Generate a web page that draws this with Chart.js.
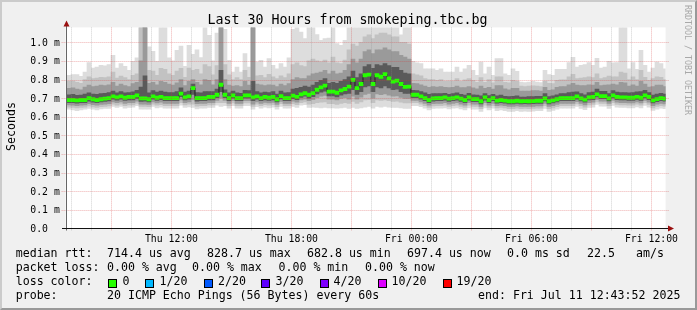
<!DOCTYPE html>
<html lang="en">
<head>
<meta charset="UTF-8">
<title>Last 30 Hours from smokeping.tbc.bg</title>
<script src="https://cdn.jsdelivr.net/npm/chart.js"></script>
<style>
  html, body { margin: 0; padding: 0; background: #f0f0f0; }
  #wrap { position: relative; width: 697px; height: 310px; background: #f0f0f0; overflow: hidden;
          font-family: "DejaVu Sans Mono", monospace; color: #000; }
  #frame { position: absolute; left: 0; top: 0; width: 697px; height: 310px; box-sizing: border-box;
           border-top: 2px solid #cbcbcb; border-left: 2px solid #cbcbcb;
           border-right: 2px solid #999; border-bottom: 2px solid #999; pointer-events: none; }
  canvas { position: absolute; left: 0; top: 0; }
  .t { position: absolute; white-space: pre; font-size: 11.6px; line-height: 11.6px; }
  .title { position: absolute; left: -1px; width: 697px; top: 12.8px; text-align: center;
           font-size: 13.3px; line-height: 13.3px; white-space: pre; }
  .box { position: absolute; top: 279px; width: 7px; height: 7px; border: 1px solid #000; }
</style>
</head>
<body>
<div id="wrap">
  <canvas id="smoke" width="697" height="310"></canvas>
  <div class="title">Last 30 Hours from smokeping.tbc.bg</div>

  <span class="t" style="left:15.7px;top:248.2px">median rtt:</span>
  <span class="t" style="left:107px;top:248.2px">714.4 us avg</span>
  <span class="t" style="left:207px;top:248.2px">828.7 us max</span>
  <span class="t" style="left:307px;top:248.2px">682.8 us min</span>
  <span class="t" style="left:407px;top:248.2px">697.4 us now</span>
  <span class="t" style="left:507px;top:248.2px">0.0 ms sd</span>
  <span class="t" style="left:587px;top:248.2px">22.5</span>
  <span class="t" style="left:636px;top:248.2px">am/s</span>

  <span class="t" style="left:15.7px;top:262.2px">packet loss:</span>
  <span class="t" style="left:107px;top:262.2px">0.00 % avg</span>
  <span class="t" style="left:192px;top:262.2px">0.00 % max</span>
  <span class="t" style="left:278.5px;top:262.2px">0.00 % min</span>
  <span class="t" style="left:365px;top:262.2px">0.00 % now</span>

  <span class="t" style="left:15.7px;top:276.2px">loss color:</span>
  <div class="box" style="left:108px;background:#26ff00"></div>
  <span class="t" style="left:122.5px;top:276.2px">0</span>
  <div class="box" style="left:145px;background:#00b8ff"></div>
  <span class="t" style="left:159.5px;top:276.2px">1/20</span>
  <div class="box" style="left:203.5px;background:#0059ff"></div>
  <span class="t" style="left:218px;top:276.2px">2/20</span>
  <div class="box" style="left:261px;background:#5e00ff"></div>
  <span class="t" style="left:275.5px;top:276.2px">3/20</span>
  <div class="box" style="left:319.5px;background:#7e00ff"></div>
  <span class="t" style="left:333.5px;top:276.2px">4/20</span>
  <div class="box" style="left:377.5px;background:#dd00ff"></div>
  <span class="t" style="left:391.5px;top:276.2px">10/20</span>
  <div class="box" style="left:442.5px;background:#ff0000"></div>
  <span class="t" style="left:456.5px;top:276.2px">19/20</span>

  <span class="t" style="left:15.7px;top:290.2px">probe:</span>
  <span class="t" style="left:107px;top:290.2px">20 ICMP Echo Pings (56 Bytes) every 60s</span>
  <span class="t" style="left:478px;top:290.2px">end: Fri Jul 11 12:43:52 2025</span>
  <div id="frame"></div>
</div>
<script>
// time axis: hours after Thu 00:00, 12 minute bins
const BIN_START = 6.8;
const BIN_HOURS = 0.2;
const VIEW_START = 6 + 43 / 60 + 52 / 3600;   // Thu 06:43:52
const VIEW_END = VIEW_START + 30;               // Fri 12:43:52

const labelHours = [12, 18, 24, 30, 36];
const labelText = ['Thu 12:00', 'Thu 18:00', 'Fri 00:00', 'Fri 06:00', 'Fri 12:00'];
const yTicks = [0, 0.1, 0.2, 0.3, 0.4, 0.5, 0.6, 0.7, 0.8, 0.9, 1.0];
const yTickText = ['0.0', '0.1 m', '0.2 m', '0.3 m', '0.4 m', '0.5 m', '0.6 m', '0.7 m', '0.8 m', '0.9 m', '1.0 m'];

// median rtt per bin (ms)
const median = [
  .690,.690,.688,.690,.690,.700,.694,.690,.694,.697,
  .700,.709,.704,.709,.702,.706,.706,.715,.699,.699,
  .694,.709,.702,.707,.700,.700,.700,.700,.724,.704,
  .709,.754,.700,.700,.700,.706,.706,.718,.772,.718,
  .700,.715,.700,.700,.715,.715,.704,.709,.700,.706,
  .702,.706,.694,.711,.700,.700,.713,.707,.720,.726,
  .718,.727,.745,.758,.767,.735,.735,.729,.742,.749,
  .762,.798,.754,.776,.823,.826,.776,.823,.815,.829,
  .806,.789,.794,.776,.760,.762,.718,.718,.709,.700,
  .690,.699,.700,.700,.704,.697,.700,.704,.697,.690,
  .704,.695,.695,.683,.704,.690,.700,.687,.690,.687,
  .683,.683,.686,.683,.684,.683,.684,.686,.686,.699,
  .683,.688,.694,.700,.700,.700,.700,.709,.699,.692,
  .704,.706,.720,.711,.711,.699,.715,.706,.704,.704,
  .702,.702,.707,.702,.715,.706,.688,.695,.700,.697
];
// smoke: highest ping and upper spread levels (ms)
const pingMax = [
  .823,.826,.826,.817,.840,.891,.862,.867,.876,.873,
  .880,.930,.862,.885,.871,.849,.898,.916,1.09,1.09,
  .975,.951,.898,1.09,1.09,.916,.900,.957,.979,.871,
  .984,.935,.960,.918,1.09,1.037,.900,1.05,1.09,1.07,
  .903,.840,.867,.840,.939,.867,1.09,.894,.903,.867,
  .912,.876,.858,.885,.867,.917,1.07,1.09,1.055,1.02,
  1.09,1.09,1.041,1.01,1.02,1.023,1.09,.993,.984,1.01,
  1.09,1.09,1.09,1.09,1.09,1.09,1.09,1.09,1.09,1.09,
  1.09,1.09,1.09,1.04,1.09,1.09,.898,.890,.885,.858,
  .858,.858,.849,.858,.840,.840,.840,.867,.840,.858,
  .876,.849,.823,.894,.831,.867,.823,.912,.912,.831,
  .823,.858,.844,.786,.783,.786,.790,.786,.783,.849,
  .826,.823,.855,.855,.855,.891,.919,.867,.876,.880,
  .891,.876,.914,.862,.867,.898,.889,.891,1.09,1.09,
  .858,.891,.855,.957,.876,.840,.862,.894,.885,.858
];
const upper2 = [
  .790,.792,.785,.780,.800,.815,.805,.808,.812,.810,
  .815,.840,.808,.818,.810,.800,.822,.830,1.09,1.09,
  .850,.845,.822,.860,.855,.830,.822,.845,.860,.812,
  .862,.850,.855,.830,.880,.870,.825,.875,1.09,.880,
  .825,.800,.810,.800,.850,.812,1.09,.820,.822,.810,
  .828,.815,.805,.820,.810,.830,.880,.890,.875,.870,
  .900,.910,.900,.895,.905,.890,.920,.890,.885,.905,
  .960,.990,.980,1.00,1.03,1.04,1.02,1.04,1.05,1.05,
  1.04,1.03,1.03,1.00,1.00,.990,.830,.825,.820,.805,
  .800,.800,.795,.800,.790,.792,.792,.805,.790,.798,
  .805,.795,.785,.810,.785,.800,.782,.815,.815,.785,
  .782,.795,.790,.765,.762,.765,.766,.765,.762,.790,
  .780,.778,.795,.798,.798,.815,.828,.805,.808,.810,
  .815,.810,.830,.805,.810,.818,.815,.815,.840,.835,
  .800,.815,.800,.850,.812,.795,.805,.815,.812,.800
];
const upper3 = [
  .752,.755,.748,.745,.760,.770,.762,.765,.770,.768,
  .772,.785,.765,.775,.768,.762,.778,.785,.900,1.09,
  .780,.785,.772,.790,.785,.775,.770,.782,.800,.768,
  .790,.800,.785,.772,.800,.795,.772,.800,1.09,.800,
  .770,.765,.768,.762,.790,.770,1.09,.775,.772,.768,
  .772,.770,.762,.775,.768,.778,.800,.810,.805,.805,
  .820,.830,.835,.840,.850,.830,.845,.830,.835,.850,
  .880,.910,.890,.910,.950,.960,.940,.960,.960,.970,
  .960,.950,.950,.930,.920,.910,.780,.778,.772,.765,
  .758,.762,.760,.762,.758,.756,.758,.765,.756,.756,
  .762,.755,.750,.765,.752,.758,.748,.768,.768,.750,
  .745,.752,.752,.738,.738,.738,.740,.740,.738,.758,
  .742,.744,.758,.762,.762,.772,.780,.770,.768,.768,
  .772,.770,.785,.768,.770,.772,.775,.772,.785,.782,
  .765,.772,.765,.790,.775,.760,.762,.770,.770,.762
];
const upper4 = [
  .718,.720,.715,.716,.722,.728,.722,.720,.724,.726,
  .730,.738,.728,.735,.728,.730,.734,.742,.760,.820,
  .728,.740,.732,.738,.732,.730,.730,.735,.755,.733,
  .738,.775,.730,.728,.735,.735,.735,.748,.850,.745,
  .728,.738,.728,.726,.742,.740,.790,.735,.728,.732,
  .730,.735,.722,.738,.728,.730,.748,.752,.758,.765,
  .760,.770,.785,.795,.805,.780,.785,.780,.790,.800,
  .815,.845,.810,.830,.870,.880,.860,.880,.875,.885,
  .875,.865,.865,.850,.835,.830,.742,.740,.735,.728,
  .720,.724,.725,.725,.726,.720,.724,.728,.720,.716,
  .726,.718,.716,.712,.724,.714,.720,.712,.716,.710,
  .708,.710,.712,.706,.706,.708,.708,.710,.710,.724,
  .708,.712,.718,.724,.724,.730,.732,.734,.724,.718,
  .730,.732,.748,.736,.736,.724,.740,.732,.730,.730,
  .728,.730,.734,.735,.742,.730,.716,.722,.726,.722
];
// smoke: lower spread levels and lowest ping (ms)
const lower4 = [
  .676,.675,.673,.675,.676,.684,.678,.675,.679,.682,
  .685,.694,.689,.694,.687,.691,.690,.699,.682,.683,
  .680,.694,.688,.692,.686,.686,.686,.686,.708,.690,
  .694,.720,.684,.686,.686,.690,.690,.702,.735,.702,
  .686,.700,.686,.686,.700,.700,.686,.694,.686,.691,
  .688,.691,.680,.696,.686,.686,.697,.692,.704,.710,
  .700,.708,.722,.732,.738,.712,.712,.706,.716,.722,
  .725,.745,.720,.735,.760,.765,.735,.760,.755,.765,
  .755,.745,.748,.735,.725,.725,.702,.702,.694,.686,
  .676,.684,.686,.686,.689,.682,.686,.689,.682,.676,
  .689,.681,.681,.669,.689,.676,.686,.673,.676,.673,
  .669,.669,.672,.669,.670,.669,.670,.672,.672,.685,
  .669,.674,.680,.686,.686,.686,.686,.695,.685,.678,
  .690,.692,.706,.697,.697,.685,.701,.692,.690,.690,
  .688,.688,.693,.688,.701,.692,.674,.681,.686,.683
];
const lower3 = [
  .664,.662,.660,.662,.664,.670,.665,.662,.666,.668,
  .670,.680,.675,.680,.672,.676,.676,.684,.668,.668,
  .666,.680,.674,.678,.672,.672,.672,.672,.690,.676,
  .680,.690,.670,.672,.672,.676,.676,.688,.700,.688,
  .672,.686,.672,.672,.686,.686,.668,.680,.672,.677,
  .674,.677,.666,.682,.672,.672,.683,.678,.690,.695,
  .686,.692,.702,.710,.715,.695,.695,.690,.698,.702,
  .695,.710,.694,.705,.720,.725,.700,.722,.718,.722,
  .716,.710,.712,.704,.698,.698,.688,.688,.680,.672,
  .662,.670,.672,.672,.675,.668,.672,.675,.668,.662,
  .675,.667,.667,.655,.675,.662,.672,.659,.662,.659,
  .655,.655,.658,.655,.656,.655,.656,.658,.658,.671,
  .655,.660,.666,.672,.672,.672,.672,.681,.671,.664,
  .676,.678,.692,.683,.683,.671,.687,.678,.676,.676,
  .674,.674,.679,.674,.687,.678,.660,.667,.672,.669
];
const lower2 = [
  .652,.650,.648,.650,.652,.658,.653,.650,.654,.656,
  .658,.668,.662,.668,.660,.664,.664,.672,.655,.655,
  .654,.668,.662,.665,.660,.660,.660,.660,.676,.663,
  .667,.668,.657,.660,.660,.664,.664,.676,.675,.675,
  .660,.674,.660,.660,.674,.674,.655,.668,.660,.665,
  .662,.665,.654,.670,.660,.660,.670,.665,.676,.680,
  .668,.670,.675,.678,.680,.670,.670,.666,.672,.675,
  .672,.682,.672,.680,.690,.692,.676,.690,.688,.690,
  .686,.682,.684,.678,.674,.674,.675,.675,.668,.660,
  .650,.658,.660,.660,.662,.656,.660,.662,.656,.650,
  .662,.655,.655,.643,.662,.650,.660,.647,.650,.647,
  .643,.643,.646,.643,.644,.643,.644,.646,.646,.659,
  .643,.648,.654,.660,.660,.660,.660,.669,.659,.652,
  .664,.666,.680,.671,.671,.659,.675,.666,.664,.664,
  .662,.662,.667,.662,.675,.666,.648,.655,.660,.657
];
const pingMin = [
  .640,.636,.632,.636,.640,.645,.640,.636,.642,.644,
  .645,.655,.650,.655,.646,.650,.652,.660,.640,.640,
  .640,.655,.648,.652,.646,.646,.646,.646,.662,.650,
  .653,.650,.642,.646,.646,.650,.650,.662,.655,.660,
  .646,.660,.646,.646,.660,.660,.640,.654,.646,.652,
  .648,.652,.640,.656,.646,.646,.655,.650,.662,.665,
  .650,.652,.650,.648,.650,.648,.648,.646,.648,.650,
  .645,.650,.645,.648,.652,.655,.646,.655,.652,.655,
  .652,.650,.650,.648,.645,.645,.660,.660,.654,.646,
  .636,.645,.646,.646,.648,.642,.646,.648,.642,.636,
  .648,.641,.641,.628,.648,.636,.646,.632,.636,.632,
  .628,.628,.632,.628,.630,.628,.630,.632,.632,.645,
  .628,.634,.640,.646,.646,.646,.646,.655,.645,.638,
  .650,.652,.666,.657,.657,.645,.661,.652,.650,.650,
  .648,.648,.653,.648,.661,.652,.634,.641,.646,.643
];

const MEDIAN_HALF = 0.0085;   // half height of the median marker
const MGRID = 'rgba(215,60,60,0.4)';
const GRID = 'rgba(140,140,140,0.4)';

const binX = median.map((_, i) => BIN_START + BIN_HOURS * (i + 0.5));
const hourTicks = [];
for (let h = Math.ceil(VIEW_START); h <= VIEW_END; h++) hourTicks.push(h);

function band(lo, hi, color, order) {
  return {
    type: 'bar',
    data: binX.map((x, i) => ({ x: x, y: [lo[i], hi[i]] })),
    backgroundColor: color,
    borderWidth: 0,
    grouped: false,
    barPercentage: 1,
    categoryPercentage: 1,
    order: order
  };
}

const rrdLook = {
  id: 'rrdLook',
  beforeDraw(chart) {
    const { ctx, chartArea: a } = chart;
    ctx.save();
    ctx.fillStyle = '#ffffff';
    ctx.fillRect(a.left, a.top, a.right - a.left, a.bottom - a.top);
    ctx.restore();
  },
  afterDatasetsDraw(chart) {
    const { ctx, chartArea: a, scales: { x, y } } = chart;
    ctx.save();
    ctx.lineWidth = 1;
    ctx.setLineDash([1, 1]);
    x.ticks.forEach(t => {
      const px = Math.round(x.getPixelForValue(t.value)) + 0.5;
      ctx.strokeStyle = t.value % 3 === 0 ? MGRID : GRID;
      ctx.beginPath(); ctx.moveTo(px, a.top); ctx.lineTo(px, a.bottom + 3); ctx.stroke();
    });
    y.ticks.forEach(t => {
      if (t.value === 0) return;
      const py = Math.round(y.getPixelForValue(t.value)) + 0.5;
      ctx.strokeStyle = MGRID;
      ctx.beginPath(); ctx.moveTo(a.left - 4, py); ctx.lineTo(a.right + 3, py); ctx.stroke();
    });
    ctx.restore();
  },
  afterDraw(chart) {
    const { ctx, scales: { x, y } } = chart;
    ctx.save();
    // axes and arrows
    const y0 = Math.round(y.getPixelForValue(0)) + 0.5;
    ctx.strokeStyle = '#666';
    ctx.lineWidth = 1;
    ctx.beginPath(); ctx.moveTo(66.5, y0 + 2); ctx.lineTo(66.5, 25); ctx.stroke();
    ctx.strokeStyle = '#111';
    ctx.beginPath(); ctx.moveTo(62, y0); ctx.lineTo(668, y0); ctx.stroke();
    ctx.fillStyle = '#9a1010';
    ctx.beginPath(); ctx.moveTo(63.5, 26.5); ctx.lineTo(69.5, 26.5); ctx.lineTo(66.5, 20.5); ctx.closePath(); ctx.fill();
    ctx.beginPath(); ctx.moveTo(668, y0 - 3); ctx.lineTo(668, y0 + 3); ctx.lineTo(674, y0); ctx.closePath(); ctx.fill();

    // tick labels
    ctx.fillStyle = '#000';
    ctx.font = '9.8px "DejaVu Sans Mono"';
    ctx.textBaseline = 'alphabetic';
    ctx.textAlign = 'left';
    yTicks.forEach((v, i) => ctx.fillText(yTickText[i], 30.3, y.getPixelForValue(v) + 3.5));
    ctx.textAlign = 'center';
    labelHours.forEach((h, i) => ctx.fillText(labelText[i], x.getPixelForValue(h) + 0.5, 241.5));

    // vertical texts
    ctx.font = '11.6px "DejaVu Sans Mono"';
    ctx.save();
    ctx.translate(15, 126.5);
    ctx.rotate(-Math.PI / 2);
    ctx.fillText('Seconds', 0, 0);
    ctx.restore();
    ctx.fillStyle = '#a8a8a8';
    ctx.font = '8.3px "DejaVu Sans Mono"';
    ctx.textAlign = 'left';
    ctx.translate(684.5, 5);
    ctx.rotate(Math.PI / 2);
    ctx.fillText('RRDTOOL / TOBI OETIKER', 0, 0);
    ctx.restore();
  }
};

new Chart(document.getElementById('smoke'), {
  type: 'bar',
  data: {
    datasets: [
      band(pingMin, pingMax, '#dddddd', 9),
      band(lower2, upper2, '#c2c2c2', 8),
      band(lower3, upper3, '#9a9a9a', 7),
      band(lower4, upper4, '#5a5a5a', 6),
      {
        type: 'line',
        data: binX.map((x, i) => ({ x: x, y: median[i] })),
        borderColor: '#202020',
        borderWidth: 1,
        pointRadius: 0,
        stepped: 'middle',
        order: 1
      },
      band(median.map(v => v - MEDIAN_HALF), median.map(v => v + MEDIAN_HALF), '#26ff00', 0)
    ]
  },
  options: {
    responsive: false,
    animation: false,
    devicePixelRatio: 1,
    layout: { padding: { left: 0, right: 31.4, top: 27.4, bottom: 61.6 } },
    plugins: { legend: { display: false }, tooltip: { enabled: false }, title: { display: false } },
    scales: {
      x: {
        type: 'linear',
        min: VIEW_START,
        max: VIEW_END,
        offset: false,
        afterBuildTicks: s => { s.ticks = hourTicks.map(v => ({ value: v })); },
        afterFit: s => { s.height = 20; },
        grid: { display: false, offset: false },
        border: { display: false },
        ticks: { display: false }
      },
      y: {
        min: 0,
        max: 1.08,
        afterBuildTicks: s => { s.ticks = yTicks.map(v => ({ value: v })); },
        afterFit: s => { s.width = 65.6; },
        grid: { display: false },
        border: { display: false },
        ticks: { display: false }
      }
    }
  },
  plugins: [rrdLook]
});
</script>
</body>
</html>
